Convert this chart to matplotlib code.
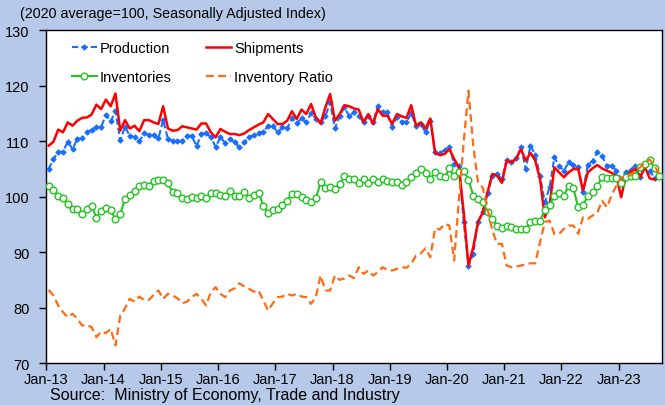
import matplotlib
matplotlib.use("Agg")
import matplotlib.pyplot as plt
import numpy as np

plt.rcParams['font.family'] = ['Liberation Sans', 'DejaVu Sans']

tick_labels = ["Jan-13", "Jan-14", "Jan-15", "Jan-16", "Jan-17", "Jan-18",
               "Jan-19", "Jan-20", "Jan-21", "Jan-22", "Jan-23"]

production = [
    105.0, 106.8, 108.1, 108.1, 109.9, 108.6, 110.4, 110.6, 111.6, 112.1, 112.5, 112.6,
    114.7, 113.6, 115.4, 110.2, 112.6, 111.0, 110.7, 110.0, 111.4, 111.1, 111.1, 110.5,
    113.8, 110.4, 110.1, 110.0, 110.1, 111.0, 111.0, 109.1, 111.3, 111.5, 110.7, 109.0,
    110.7, 109.7, 110.4, 109.8, 108.9, 109.8, 110.7, 111.1, 111.5, 111.7, 112.8, 112.8,
    111.6, 112.5, 112.3, 114.1, 113.2, 114.1, 113.4, 115.1, 114.0, 113.5, 114.5, 117.0,
    112.3, 114.6, 116.1, 114.5, 115.2, 114.6, 113.4, 114.6, 113.4, 116.3, 115.2, 115.2,
    112.6, 114.3, 113.4, 113.5, 115.0, 112.8, 113.1, 111.6, 113.7, 108.0, 107.9, 108.4,
    108.9, 105.9, 105.6, 95.4, 87.6, 89.7, 95.5, 97.3, 100.6, 103.8, 104.1, 103.2,
    106.6, 106.3, 106.9, 108.9, 105.0, 109.2, 107.5, 103.8, 99.0, 101.7, 107.1, 105.5,
    104.7, 106.2, 105.7, 105.3, 100.8, 105.7, 106.5, 108.0, 107.4, 105.6, 105.6, 104.7,
    103.2, 104.5, 104.9, 105.5, 103.5, 105.7, 104.7, 103.3, 103.7]

shipments = [
    109.2, 109.9, 112.1, 111.6, 113.4, 112.8, 113.7, 114.2, 114.3, 114.8, 116.6, 115.8,
    117.5, 116.3, 118.6, 111.9, 113.8, 112.3, 112.8, 111.8, 113.8, 113.8, 113.4, 113.1,
    116.3, 112.3, 111.9, 112.0, 112.7, 112.5, 112.3, 112.1, 113.2, 113.2, 111.6, 110.7,
    112.2, 111.7, 111.3, 111.3, 111.1, 111.4, 112.0, 112.5, 113.0, 113.4, 114.9, 114.0,
    113.1, 113.1, 113.7, 115.4, 114.0, 115.7, 114.9, 116.7, 114.3, 113.2, 116.1, 118.5,
    113.7, 114.9, 116.5, 116.3, 115.9, 115.7, 113.4, 114.9, 113.1, 115.8, 114.6, 114.6,
    113.1, 114.9, 114.5, 114.2, 116.5, 112.8, 113.4, 112.3, 114.1, 107.9, 107.5, 107.7,
    108.6, 106.8, 105.3, 97.2, 87.6, 90.9, 95.4, 97.2, 100.8, 104.1, 103.8, 102.5,
    106.5, 106.2, 106.8, 108.6, 106.5, 107.9, 106.5, 103.2, 96.3, 98.4, 105.3, 104.4,
    103.5, 104.4, 105.0, 105.0, 101.1, 104.4, 105.1, 105.7, 105.1, 104.7, 104.3, 103.8,
    99.9, 103.8, 104.5, 105.0, 103.5, 105.3, 103.3, 103.1, 103.5]

inventories = [
    101.9, 101.2, 100.2, 99.7, 98.6, 97.7, 97.8, 96.8, 97.7, 98.4, 96.2, 97.5,
    97.9, 97.6, 95.9, 96.9, 99.5, 100.4, 101.1, 102.0, 102.1, 101.9, 102.9, 103.1,
    103.1, 102.4, 100.8, 100.7, 99.8, 99.6, 99.9, 99.7, 100.1, 99.8, 100.6, 100.6,
    100.3, 100.1, 101.0, 100.2, 100.2, 100.8, 99.7, 100.4, 100.7, 98.4, 97.0, 97.6,
    97.8, 98.5, 99.3, 100.5, 100.5, 99.9, 99.4, 99.1, 99.7, 102.6, 101.5, 101.7,
    101.4, 102.3, 103.7, 103.2, 103.2, 102.5, 103.2, 102.5, 103.2, 102.7, 103.2, 102.8,
    102.7, 102.7, 102.1, 102.6, 103.5, 104.2, 105.0, 104.3, 103.2, 104.5, 103.7, 103.5,
    105.1, 103.7, 104.5, 104.7, 103.1, 100.2, 99.6, 99.1, 97.2, 95.9, 94.8, 94.3,
    94.8, 94.5, 94.1, 94.1, 94.1, 95.5, 95.7, 95.7, 97.6, 98.5, 100.2, 100.7,
    100.2, 102.0, 101.5, 98.1, 98.5, 100.1, 100.8, 101.9, 103.5, 103.3, 103.3, 103.3,
    102.5, 103.5, 103.8, 103.8, 105.3, 105.9, 106.7, 105.1, 103.8]

inventory_ratio = [
    83.2, 82.2, 80.4, 79.2, 78.3, 78.9, 78.0, 76.8, 76.9, 76.5, 74.7, 75.7,
    75.4, 76.2, 73.2, 78.5, 79.9, 81.6, 81.1, 82.0, 81.4, 81.4, 82.3, 83.1,
    81.6, 82.5, 82.2, 81.7, 80.8, 81.1, 81.9, 82.5, 81.6, 80.4, 82.8, 83.7,
    82.5, 81.9, 83.1, 83.5, 84.4, 83.8, 83.4, 82.9, 83.1, 81.3, 79.5, 80.8,
    81.9, 82.0, 82.5, 82.2, 82.5, 82.0, 81.9, 80.7, 81.9, 85.8, 83.1, 83.1,
    85.8, 85.0, 85.3, 85.8, 85.3, 87.3, 86.1, 86.7, 85.8, 86.4, 87.3, 86.8,
    86.7, 87.0, 87.3, 87.2, 87.9, 89.4, 89.8, 90.7, 89.1, 94.3, 94.1, 95.1,
    94.8, 88.5, 99.6, 109.8, 119.1, 109.2, 102.6, 101.6, 97.8, 93.9, 91.5, 91.5,
    87.6, 87.3, 87.4, 87.6, 87.8, 88.0, 88.0, 91.8, 95.4, 95.7, 93.3, 93.3,
    94.2, 94.8, 94.8, 93.3, 96.3, 96.0, 96.6, 97.1, 99.3, 98.1, 100.2, 102.0,
    103.5, 103.5, 103.9, 104.7, 105.3, 106.2, 106.7, 105.6, 104.1]

n = len(production)
x = np.arange(n) + 0.5

fig = plt.figure(figsize=(6.65, 4.06), dpi=100)
fig.patch.set_facecolor('#B7C9E8')
ax = fig.add_axes([0.0696, 0.103, 0.9254, 0.820])
ax.set_facecolor('white')

lp, = ax.plot(x, production, color='#1A6EFF', lw=1.5, ls=(0, (3, 1.5)), marker='D',
              markersize=2.8, markeredgewidth=0.6, label='Production', zorder=3)
ls_, = ax.plot(x, shipments, color='#FF0000', lw=1.8, label='Shipments', zorder=4)
li, = ax.plot(x, inventories, color='#22C522', lw=1.5, marker='o', markersize=4.8,
              markerfacecolor='white', markeredgecolor='#22C522', markeredgewidth=1.0,
              label='Inventories', zorder=5)
lr, = ax.plot(x, inventory_ratio, color='#FF6A13', lw=1.6, ls=(0, (3.5, 2)),
              label='Inventory Ratio', zorder=6)

ax.set_xlim(0, 129)
ax.set_ylim(70, 130)
ax.set_yticks(np.arange(70, 131, 10))
ax.set_xticks(np.arange(0, 121, 12))
ax.set_xticklabels(tick_labels)
ax.tick_params(axis='both', direction='out', length=5, width=1, labelsize=10.5,
               colors='black')
ax.tick_params(axis='y', pad=7)
ax.tick_params(axis='x', pad=1.5)
for s in ax.spines.values():
    s.set_color('black')
    s.set_linewidth(1.0)

handles = [lp, li, ls_, lr]
leg = ax.legend(handles, [h.get_label() for h in handles], loc='upper left',
                bbox_to_anchor=(0.032, 0.985), ncol=2,
                frameon=False, fontsize=10.5, handlelength=1.7, handletextpad=0.2,
                labelspacing=1.0, columnspacing=2.4, borderaxespad=0)

fig.text(0.030, 0.966, '(2020 average=100, Seasonally Adjusted Index)',
         fontsize=10.3, ha='left', va='center')
fig.text(0.075, 0.025, 'Source:  Ministry of Economy, Trade and Industry',
         fontsize=11.5, ha='left', va='center')

fig.savefig('out.png', dpi=100, facecolor=fig.get_facecolor())
